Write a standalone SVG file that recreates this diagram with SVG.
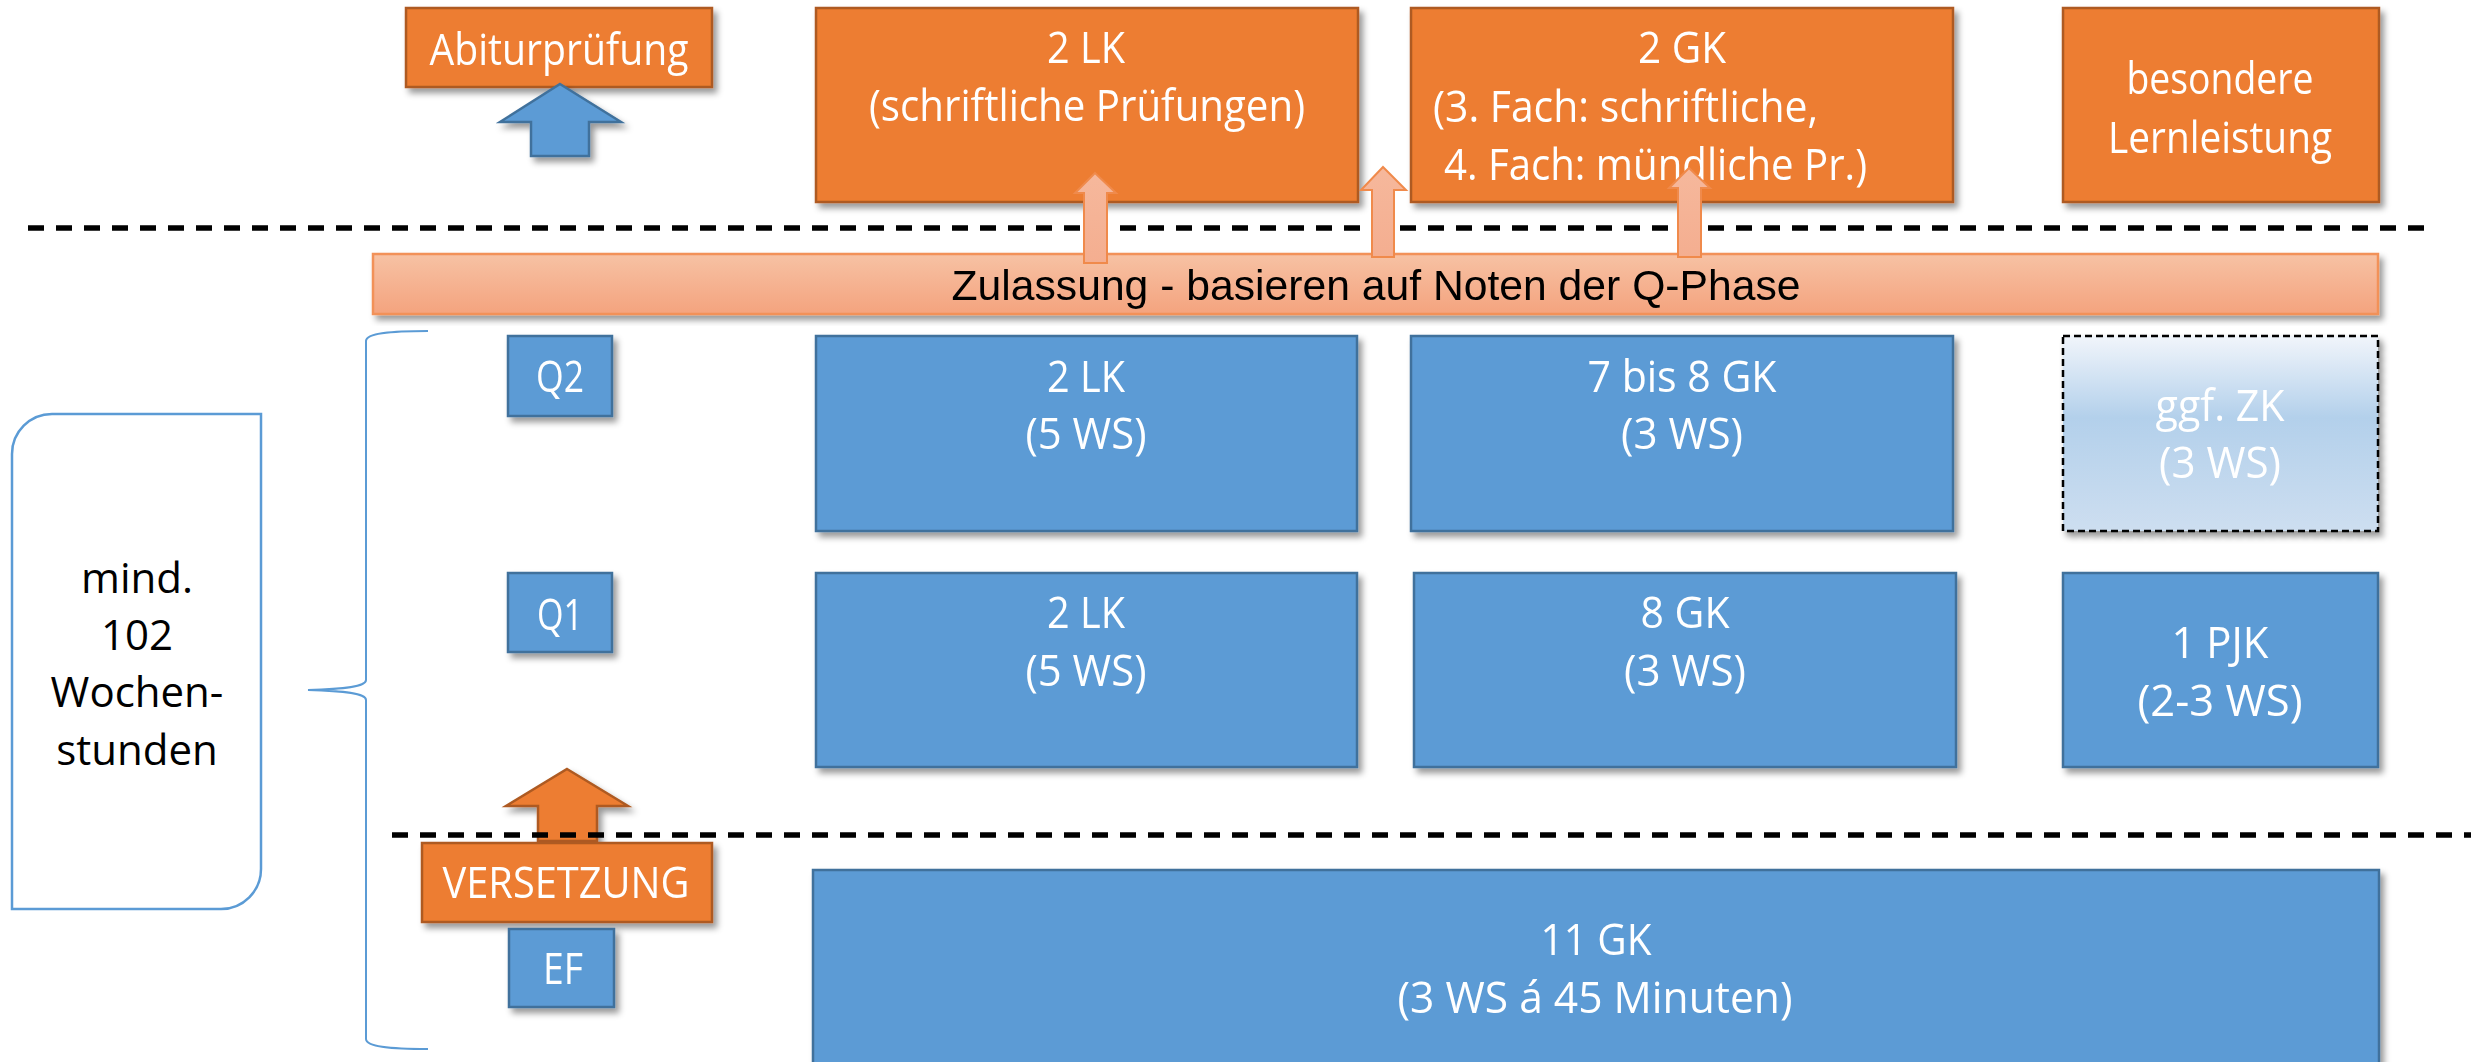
<svg xmlns="http://www.w3.org/2000/svg" width="2471" height="1062" viewBox="0 0 2471 1062">
<defs>
<filter id="sh" x="-10%" y="-10%" width="125%" height="130%">
<feDropShadow dx="4" dy="5" stdDeviation="3" flood-color="#000" flood-opacity="0.4"/>
</filter>
<linearGradient id="barG" x1="0" y1="0" x2="0" y2="1">
<stop offset="0" stop-color="#F7C2A4"/>
<stop offset="1" stop-color="#F4A37E"/>
</linearGradient>
<linearGradient id="zkG" x1="0" y1="0" x2="0" y2="1">
<stop offset="0" stop-color="#F1F5FB"/>
<stop offset="0.42" stop-color="#B3D0EB"/>
<stop offset="1" stop-color="#CDDEF0"/>
</linearGradient>
<linearGradient id="saG" x1="0" y1="0" x2="0" y2="1">
<stop offset="0" stop-color="#F6B89C"/>
<stop offset="1" stop-color="#F4AE90"/>
</linearGradient>
</defs>
<style>
.or{fill:#ED7D31;stroke:#AE5A21;stroke-width:2.5}
.bl{fill:#5B9BD5;stroke:#41719C;stroke-width:2.5}
.t{font-family:"Open Sans","Noto Sans",sans-serif;font-size:44px;fill:#fff;text-anchor:middle}
.ts{font-family:"Open Sans","Noto Sans",sans-serif;font-size:44px;fill:#fff;text-anchor:start}
.tk{font-family:"Open Sans","Noto Sans",sans-serif;font-size:42px;fill:#000;text-anchor:middle}
.tz{font-family:"Liberation Sans","Open Sans",sans-serif;font-size:42px;fill:#000;text-anchor:middle}
.dash{stroke:#000;stroke-width:5.5;stroke-dasharray:16 12;fill:none}
.sa{fill:url(#saG);stroke:#F08A4B;stroke-width:2}
</style>

<!-- separators -->
<line class="dash" x1="28" y1="228" x2="2425" y2="228"/>

<!-- brace and left box -->
<g id="brace">
<path d="M428,331 C392,331 366,333 366,341 L366,680 C366,687 344,689 308,690 C344,691 366,693 366,700 L366,1039 C366,1047 392,1049 428,1049" fill="none" stroke="#5B9BD5" stroke-width="2"/>
</g>
<g id="node-mind">
<path d="M52,414 L261,414 L261,869 A40,40 0 0 1 221,909 L12,909 L12,454 A40,40 0 0 1 52,414 Z" fill="#fff" stroke="#5B9BD5" stroke-width="2.5"/>
<text class="tk" x="137" y="593">mind.</text>
<text class="tk" x="137" y="650">102</text>
<text class="tk" x="137" y="707">Wochen-</text>
<text class="tk" x="137" y="765">stunden</text>
</g>

<!-- top row -->
<g id="node-abitur" filter="url(#sh)">
<rect class="or" x="406" y="8" width="306" height="79"/>
<text class="t" x="559" y="65" textLength="259" lengthAdjust="spacingAndGlyphs">Abiturprüfung</text>
</g>
<g id="node-lk-pruef" filter="url(#sh)">
<rect class="or" x="816" y="8" width="542" height="194"/>
<text class="t" x="1086" y="63" textLength="78" lengthAdjust="spacingAndGlyphs">2 LK</text>
<text class="t" x="1087" y="121" textLength="436" lengthAdjust="spacingAndGlyphs">(schriftliche Prüfungen)</text>
</g>
<g id="node-gk-pruef" filter="url(#sh)">
<rect class="or" x="1411" y="8" width="542" height="194"/>
<text class="t" x="1682" y="63" textLength="88" lengthAdjust="spacingAndGlyphs">2 GK</text>
<text class="ts" x="1433" y="122" textLength="385" lengthAdjust="spacingAndGlyphs">(3. Fach: schriftliche,</text>
<text class="ts" x="1444" y="180" textLength="423" lengthAdjust="spacingAndGlyphs">4. Fach: mündliche Pr.)</text>
</g>
<g id="node-bll" filter="url(#sh)">
<rect class="or" x="2063" y="8" width="316" height="194"/>
<text class="t" x="2220" y="94" textLength="187" lengthAdjust="spacingAndGlyphs">besondere</text>
<text class="t" x="2220" y="153" textLength="224" lengthAdjust="spacingAndGlyphs">Lernleistung</text>
</g>

<!-- Zulassung bar -->
<g id="node-zulassung" filter="url(#sh)">
<rect x="373" y="254" width="2005" height="60" fill="url(#barG)" stroke="#F29158" stroke-width="2.5"/>
<text class="tz" x="1376" y="300" textLength="849" lengthAdjust="spacingAndGlyphs">Zulassung - basieren auf Noten der Q-Phase</text>
</g>

<!-- Q2 row -->
<g id="node-q2" filter="url(#sh)">
<rect class="bl" x="508" y="336" width="104" height="80"/>
<text class="t" x="560" y="392" textLength="48" lengthAdjust="spacingAndGlyphs">Q2</text>
</g>
<g id="node-q2-lk" filter="url(#sh)">
<rect class="bl" x="816" y="336" width="541" height="195"/>
<text class="t" x="1086" y="392" textLength="78" lengthAdjust="spacingAndGlyphs">2 LK</text>
<text class="t" x="1086" y="449" textLength="121" lengthAdjust="spacingAndGlyphs">(5 WS)</text>
</g>
<g id="node-q2-gk" filter="url(#sh)">
<rect class="bl" x="1411" y="336" width="542" height="195"/>
<text class="t" x="1682" y="392" textLength="189" lengthAdjust="spacingAndGlyphs">7 bis 8 GK</text>
<text class="t" x="1682" y="449" textLength="122" lengthAdjust="spacingAndGlyphs">(3 WS)</text>
</g>
<g id="node-q2-zk" filter="url(#sh)">
<rect x="2063" y="336" width="315" height="195" fill="url(#zkG)" stroke="#000" stroke-width="2.5" stroke-dasharray="7 4"/>
<text class="t" x="2220" y="421" textLength="129" lengthAdjust="spacingAndGlyphs">ggf. ZK</text>
<text class="t" x="2220" y="478" textLength="122" lengthAdjust="spacingAndGlyphs">(3 WS)</text>
</g>

<!-- Q1 row -->
<g id="node-q1" filter="url(#sh)">
<rect class="bl" x="508" y="573" width="104" height="79"/>
<text class="t" x="560" y="630" textLength="46" lengthAdjust="spacingAndGlyphs">Q1</text>
</g>
<g id="node-q1-lk" filter="url(#sh)">
<rect class="bl" x="816" y="573" width="541" height="194"/>
<text class="t" x="1086" y="628" textLength="78" lengthAdjust="spacingAndGlyphs">2 LK</text>
<text class="t" x="1086" y="686" textLength="121" lengthAdjust="spacingAndGlyphs">(5 WS)</text>
</g>
<g id="node-q1-gk" filter="url(#sh)">
<rect class="bl" x="1414" y="573" width="542" height="194"/>
<text class="t" x="1685" y="628" textLength="89" lengthAdjust="spacingAndGlyphs">8 GK</text>
<text class="t" x="1685" y="686" textLength="122" lengthAdjust="spacingAndGlyphs">(3 WS)</text>
</g>
<g id="node-q1-pjk" filter="url(#sh)">
<rect class="bl" x="2063" y="573" width="315" height="194"/>
<text class="t" x="2220" y="658" textLength="97" lengthAdjust="spacingAndGlyphs">1 PJK</text>
<text class="t" x="2220" y="716" textLength="165" lengthAdjust="spacingAndGlyphs">(2-3 WS)</text>
</g>

<!-- connectors (arrows) -->
<g id="connectors">
<path filter="url(#sh)" d="M560,84 L621,122 L589,122 L589,156 L531,156 L531,122 L500,122 Z" fill="#5B9BD5" stroke="#41719C" stroke-width="2.5"/>
<path filter="url(#sh)" d="M567,769 L628,806 L597,806 L597,841 L538,841 L538,806 L506,806 Z" fill="#ED7D31" stroke="#AE5A21" stroke-width="2.5"/>
<path class="sa" d="M1095,173 L1116,193 L1107,193 L1107,263 L1084,263 L1084,193 L1075,193 Z"/>
<path class="sa" d="M1383,167 L1406,190 L1394,190 L1394,257 L1372,257 L1372,190 L1361,190 Z"/>
<path class="sa" d="M1689,168 L1710,188 L1701,188 L1701,257 L1678,257 L1678,188 L1669,188 Z"/>
</g>

<line class="dash" x1="392" y1="835" x2="2471" y2="835"/>

<!-- EF row -->
<g id="node-versetzung" filter="url(#sh)">
<rect class="or" x="422" y="843" width="290" height="79"/>
<text class="t" x="566" y="898" textLength="247" lengthAdjust="spacingAndGlyphs">VERSETZUNG</text>
</g>
<g id="node-ef" filter="url(#sh)">
<rect class="bl" x="509" y="929" width="105" height="78"/>
<text class="t" x="563" y="984" textLength="40" lengthAdjust="spacingAndGlyphs">EF</text>
</g>
<g id="node-ef-gk" filter="url(#sh)">
<rect class="bl" x="813" y="870" width="1566" height="200"/>
<text class="t" x="1596" y="955" textLength="111" lengthAdjust="spacingAndGlyphs">11 GK</text>
<text class="t" x="1595" y="1013" textLength="395" lengthAdjust="spacingAndGlyphs">(3 WS á 45 Minuten)</text>
</g>
</svg>
